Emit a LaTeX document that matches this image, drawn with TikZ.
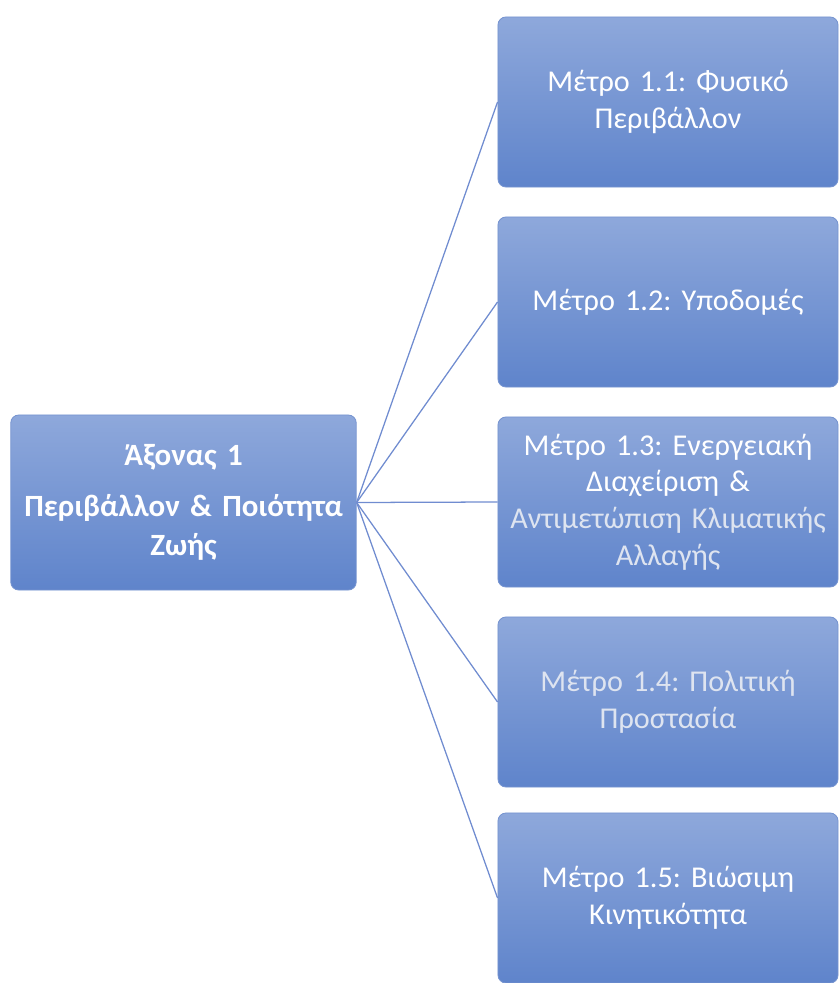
\documentclass[tikz,border=0pt]{standalone}
\usepackage{fontspec}
\setmainfont{Carlito}
\frenchspacing
\definecolor{boxtop}{RGB}{142,168,219}
\definecolor{boxbot}{RGB}{95,132,203}
\definecolor{boxedge}{RGB}{118,148,208}
\definecolor{linkblue}{RGB}{112,140,208}
\definecolor{fadetext}{RGB}{222,228,240}

\begin{document}
\begin{tikzpicture}[
    x=0.025cm, y=-0.025cm,
    box/.style={rectangle, rounded corners=0.2cm, draw=boxedge, line width=0.6pt,
        top color=boxtop, bottom color=boxbot, text=white, align=center},
    axis/.style={box, minimum width=8.575cm, minimum height=4.375cm, text width=8.4cm,
        font=\fontsize{22}{27.5}\selectfont\bfseries},
    measure/.style={box, minimum width=8.5cm, minimum height=4.25cm, text width=8cm,
        font=\fontsize{21.5}{26}\selectfont},
    faded/.style={text=fadetext},
    link/.style={draw=linkblue, line width=0.9pt}
]
\useasboundingbox (0,0) rectangle (839,983);

% Axis
\node[axis] (axon) at (183.5,502.5) {Άξονας 1\\[9pt] Περιβάλλον \& Ποιότητα\\ Ζωής};

% Measures
\node[measure] (m11) at (668,102) {Μέτρο 1.1: Φυσικό\\ Περιβάλλον};
\node[measure] (m12) at (668,302) {Μέτρο 1.2: Υποδομές};
\node[measure] (m13) at (668,502) {Μέτρο 1.3: Ενεργειακή\\ Διαχείριση \&\\
    {\color{fadetext}Αντιμετώπιση Κλιματικής}\\ {\color{fadetext}Αλλαγής}};
\node[measure, faded] (m14) at (668,702) {Μέτρο 1.4: Πολιτική\\ Προστασία};
\node[measure] (m15) at (668,898) {Μέτρο 1.5: Βιώσιμη\\ Κινητικότητα};

% Connections
\draw[link] (axon.east) -- (m11.west);
\draw[link] (axon.east) -- (m12.west);
\draw[link] (axon.east) -- (m13.west);
\draw[link] (axon.east) -- (m14.west);
\draw[link] (axon.east) -- (m15.west);

\end{tikzpicture}
\end{document}
